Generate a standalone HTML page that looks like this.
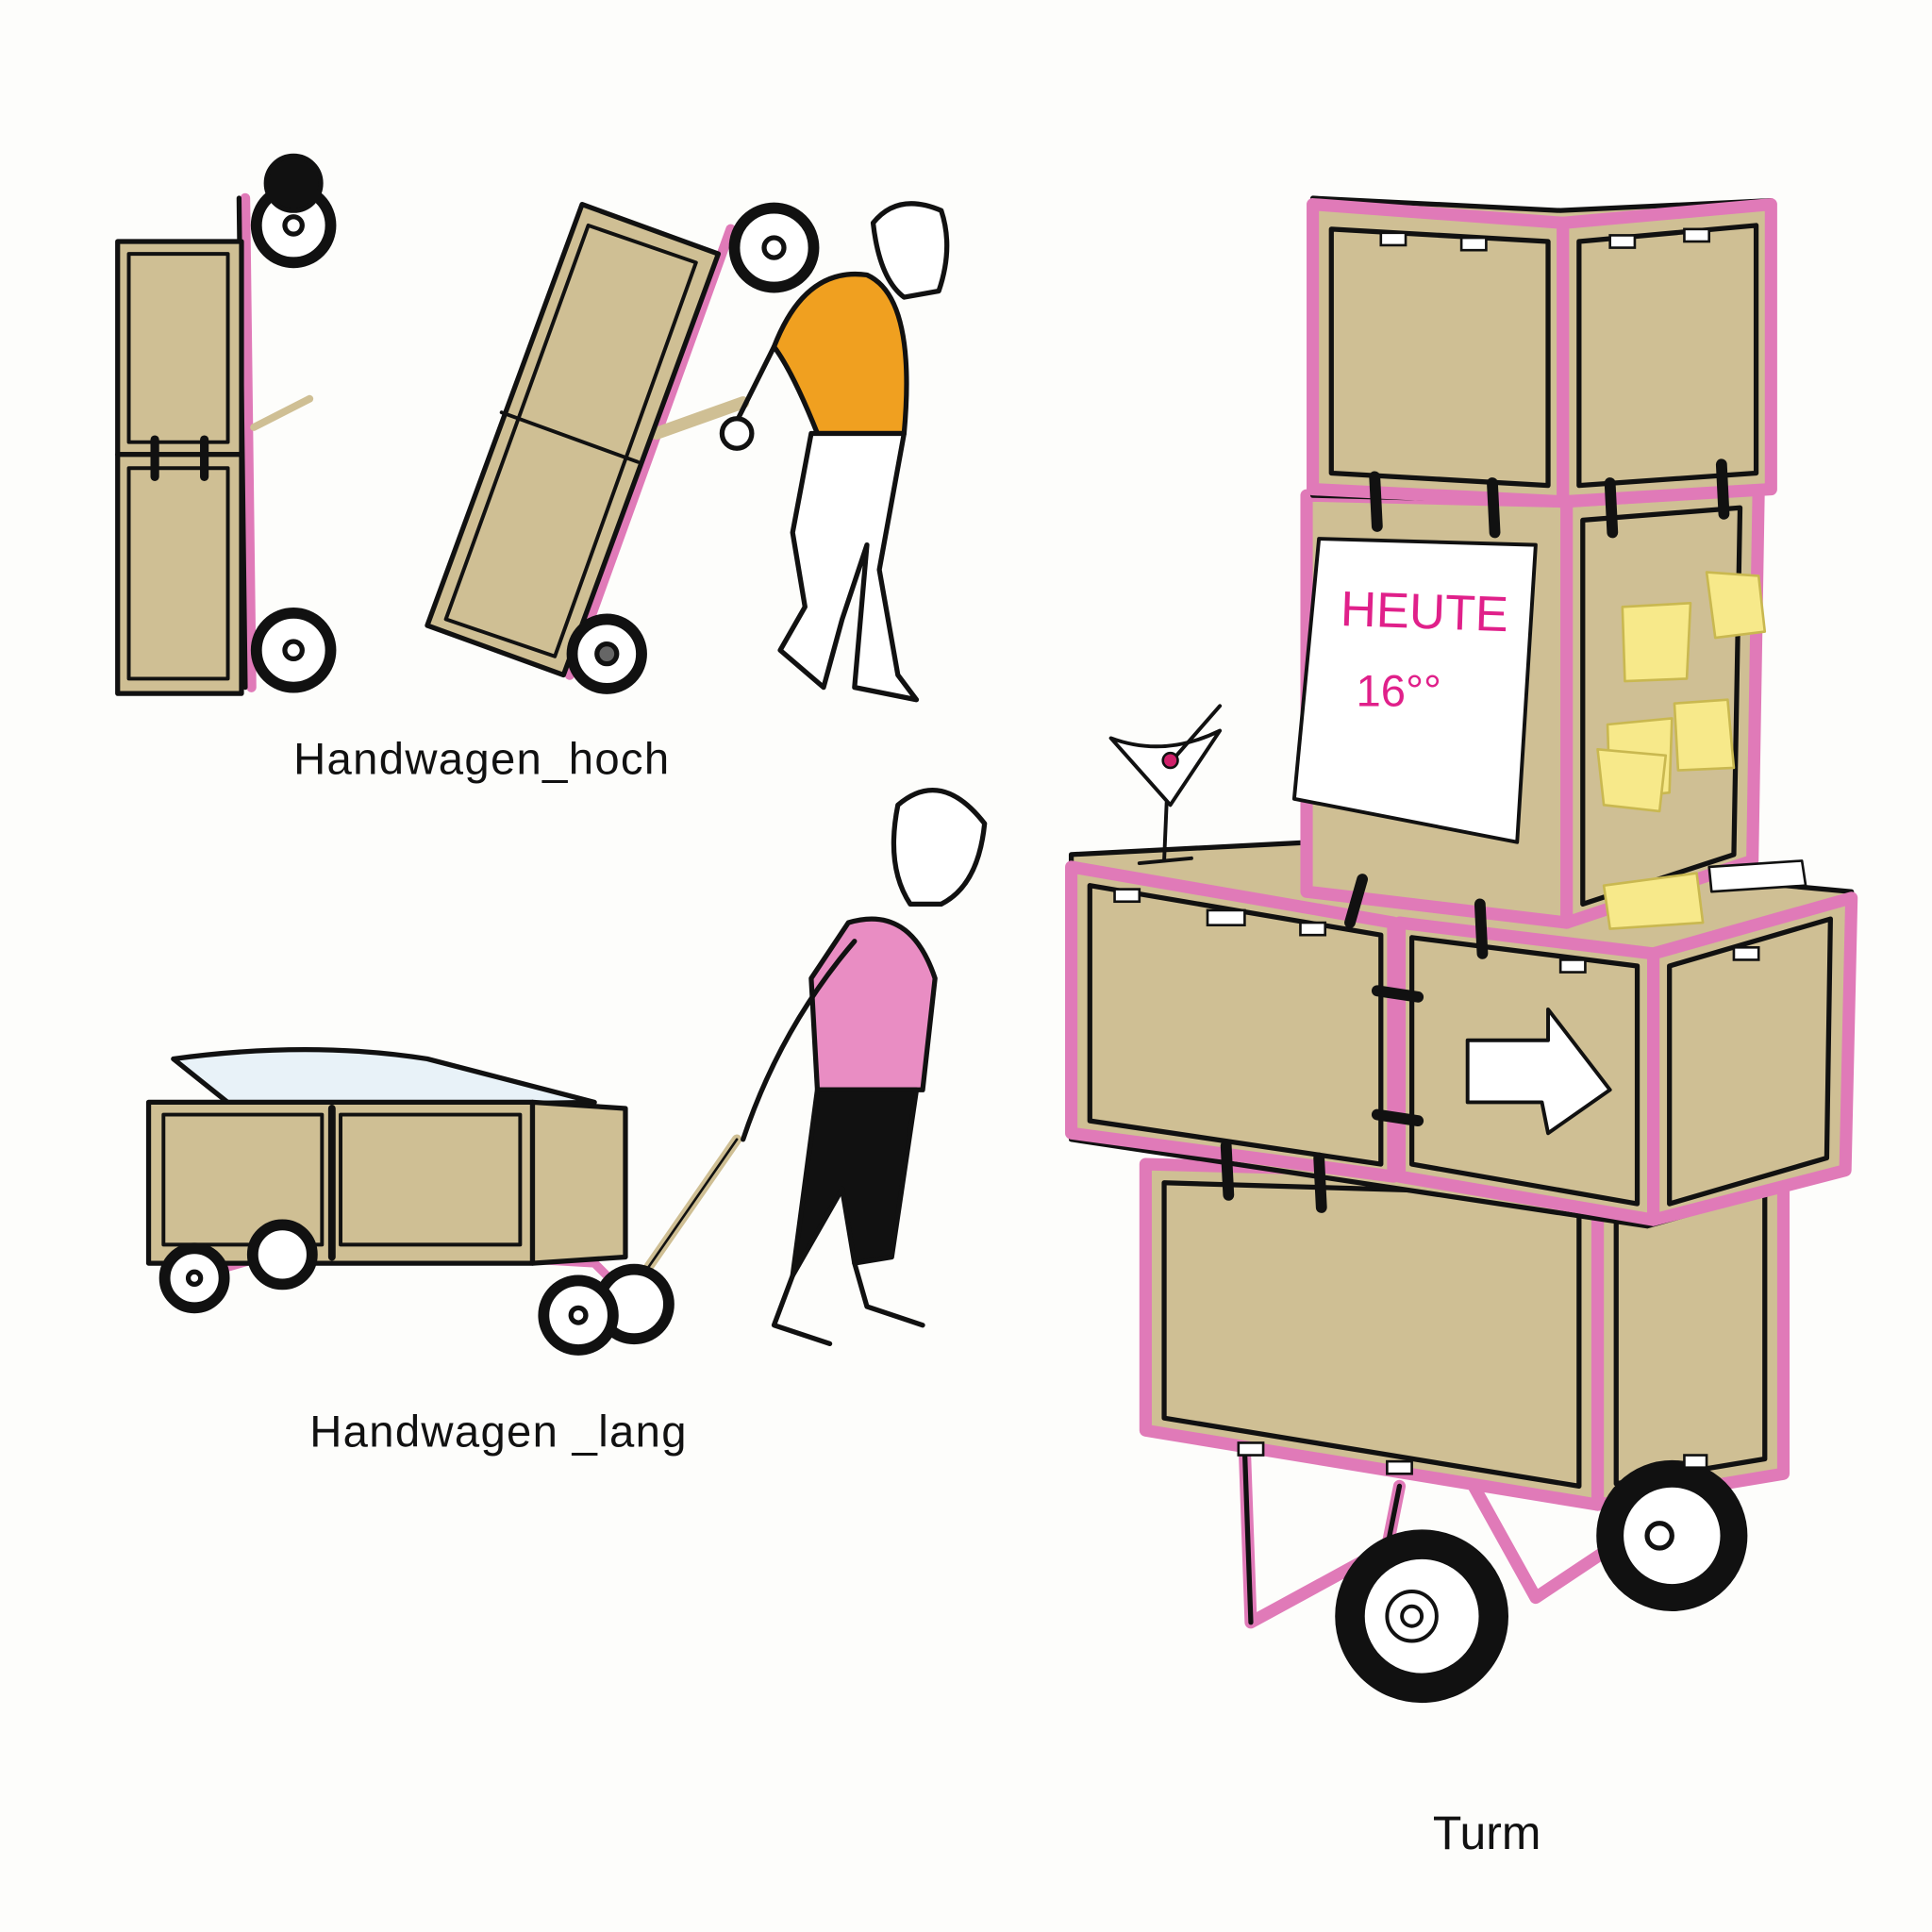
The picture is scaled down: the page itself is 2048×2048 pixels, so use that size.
<!DOCTYPE html>
<html><head><meta charset="utf-8"><style>
html,body{margin:0;padding:0;background:#fdfdfb;}
svg{display:block;}
text{font-family:"Liberation Sans",sans-serif;}
</style></head><body>
<svg width="2048" height="2048" viewBox="0 0 1560 1560" xmlns="http://www.w3.org/2000/svg">
<rect width="1560" height="1560" fill="#fdfdfb"/>
<g stroke="#111" stroke-width="4" stroke-linejoin="round" stroke-linecap="round">

<line x1="198" y1="160" x2="203" y2="555" stroke="#e07ab8" stroke-width="8"/>
<line x1="193" y1="160" x2="198" y2="555"/>
<line x1="205" y1="345" x2="250" y2="322" stroke-width="6" stroke="#cfbf94"/>
<rect x="95" y="195" width="100" height="172" fill="#cfbf94"/>
<rect x="104" y="205" width="80" height="152" fill="none" stroke-width="3"/>
<rect x="95" y="367" width="100" height="193" fill="#cfbf94"/>
<rect x="104" y="378" width="80" height="170" fill="none" stroke-width="3"/>
<line x1="125" y1="355" x2="125" y2="385" stroke-width="7"/>
<line x1="165" y1="355" x2="165" y2="385" stroke-width="7"/>
<circle cx="237" cy="182" r="30" fill="#fff" stroke-width="9"/>
<circle cx="237" cy="182" r="7" fill="#fff"/>
<circle cx="237" cy="148" r="22" fill="#111"/>
<circle cx="237" cy="525" r="30" fill="#fff" stroke-width="9"/>
<circle cx="237" cy="525" r="7" fill="#fff"/>

<line x1="590" y1="185" x2="460" y2="545" stroke="#e07ab8" stroke-width="8"/>
<line x1="530" y1="350" x2="600" y2="325" stroke="#cfbf94" stroke-width="10"/>
<polygon points="345,505 470,165 580,205 455,545" fill="#cfbf94"/>
<polygon points="360,500 475,182 562,212 448,530" fill="none" stroke-width="3"/>
<line x1="405" y1="333" x2="515" y2="373" stroke-width="3"/>
<circle cx="625" cy="200" r="32" fill="#fff" stroke-width="9"/>
<circle cx="625" cy="200" r="8" fill="#fff"/>
<circle cx="490" cy="528" r="28" fill="#fff" stroke-width="9"/>
<circle cx="490" cy="528" r="8" fill="#666"/>
<path d="M705 180 Q725 155 760 170 Q770 200 758 235 L730 240 Q710 225 705 180Z" fill="#fff"/>
<path d="M700 222 Q740 240 730 350 L660 350 Q640 300 625 280 Q650 215 700 222Z" fill="#f0a020"/>
<path d="M625 280 Q605 320 590 350" fill="none"/>
<circle cx="595" cy="350" r="12" fill="#fff"/>
<path d="M655 350 L640 430 L650 490 L630 525 L665 555 L680 500 L700 440 L690 555 L740 565 L725 545 L710 460 L730 350Z" fill="#fff"/>

<path d="M140 1000 L480 1020 L510 1050 M160 1030 L230 1010" fill="none" stroke="#e07ab8" stroke-width="7"/>
<path d="M140 855 Q250 840 345 855 L480 890 L190 895Z" fill="#e8f2f8"/>
<rect x="120" y="890" width="310" height="130" fill="#cfbf94"/>
<polygon points="430,890 505,895 505,1015 430,1020" fill="#cfbf94"/>
<rect x="132" y="900" width="128" height="105" fill="none" stroke-width="3"/>
<rect x="275" y="900" width="145" height="105" fill="none" stroke-width="3"/>
<line x1="268" y1="895" x2="268" y2="1015" stroke-width="6"/>
<line x1="505" y1="1050" x2="595" y2="920" stroke="#cfbf94" stroke-width="8"/>
<line x1="505" y1="1050" x2="595" y2="920" stroke-width="2"/>
<circle cx="228" cy="1013" r="24" fill="#fff" stroke-width="9"/>
<circle cx="157" cy="1032" r="24" fill="#fff" stroke-width="9"/>
<circle cx="157" cy="1032" r="5" fill="#fff"/>
<circle cx="512" cy="1053" r="28" fill="#fff" stroke-width="9"/>
<circle cx="467" cy="1062" r="28" fill="#fff" stroke-width="9"/>
<circle cx="467" cy="1062" r="6" fill="#fff"/>
<path d="M725 650 Q760 620 795 665 Q790 715 760 730 L735 730 Q715 700 725 650Z" fill="#fff"/>
<path d="M685 745 Q735 730 755 790 L745 880 L660 880 L655 790Z" fill="#e98dc3"/>
<path d="M690 760 Q630 830 600 920" fill="none"/>
<path d="M660 880 L740 880 L720 1015 L690 1020 L680 960 L640 1030Z" fill="#111"/>
<path d="M640 1030 L625 1070 L670 1085 M690 1020 L700 1055 L745 1070" fill="none"/>

<path d="M1005 1170 L1010 1310 L1120 1250 L1130 1200 M1190 1200 L1240 1290 L1300 1250 L1310 1200" fill="none" stroke="#e07ab8" stroke-width="10"/>
<path d="M1005 1170 L1010 1310 M1120 1250 L1130 1200" fill="none"/>
<polygon points="925,940 1290,950 1440,945 1440,1190 1290,1215 925,1155" fill="#cfbf94"/>
<polygon points="925,940 1290,950 1290,1215 925,1155" fill="#cfbf94" stroke="#e07ab8" stroke-width="10"/>
<polygon points="940,955 1275,965 1275,1200 940,1145" fill="none"/>
<polygon points="1290,950 1440,945 1440,1190 1290,1215" fill="none" stroke="#e07ab8" stroke-width="10"/>
<polygon points="1305,965 1425,960 1425,1178 1305,1198" fill="none"/>
<polygon points="865,690 1060,680 1495,720 1490,945 1330,990 865,920" fill="#cfbf94"/>
<polygon points="865,700 1125,745 1125,950 865,915" fill="#cfbf94" stroke="#e07ab8" stroke-width="10"/>
<polygon points="880,715 1115,755 1115,940 880,905" fill="none"/>
<polygon points="1130,745 1335,770 1335,985 1130,950" fill="#cfbf94" stroke="#e07ab8" stroke-width="10"/>
<polygon points="1140,757 1322,780 1322,972 1140,940" fill="none"/>
<polygon points="1335,770 1495,725 1490,945 1335,985" fill="#cfbf94" stroke="#e07ab8" stroke-width="10"/>
<polygon points="1348,780 1478,742 1475,935 1348,972" fill="none"/>
<polygon points="1185,840 1250,840 1250,815 1300,880 1250,915 1245,890 1185,890" fill="#fff" stroke-width="3"/>
<polygon points="1055,400 1265,405 1265,745 1055,720" fill="#cfbf94" stroke="#e07ab8" stroke-width="10"/>
<polygon points="1265,405 1420,395 1415,695 1265,745" fill="#cfbf94" stroke="#e07ab8" stroke-width="10"/>
<polygon points="1278,420 1405,410 1400,690 1278,730" fill="none"/>
<polygon points="1060,160 1260,170 1430,162 1430,395 1260,405 1060,400" fill="#cfbf94"/>
<polygon points="1060,165 1262,180 1262,405 1060,395" fill="#cfbf94" stroke="#e07ab8" stroke-width="10"/>
<polygon points="1075,185 1250,195 1250,392 1075,382" fill="none"/>
<polygon points="1262,180 1430,165 1430,395 1262,405" fill="#cfbf94" stroke="#e07ab8" stroke-width="10"/>
<polygon points="1275,195 1418,182 1418,382 1275,392" fill="none"/>
<g stroke-width="9">
<line x1="1110" y1="385" x2="1112" y2="425"/><line x1="1205" y1="390" x2="1207" y2="430"/>
<line x1="1300" y1="390" x2="1302" y2="430"/><line x1="1390" y1="375" x2="1392" y2="415"/>
<line x1="1100" y1="710" x2="1090" y2="745"/><line x1="1195" y1="730" x2="1197" y2="770"/>
<line x1="990" y1="925" x2="992" y2="965"/><line x1="1065" y1="935" x2="1067" y2="975"/>
<line x1="1112" y1="800" x2="1145" y2="805"/><line x1="1112" y1="900" x2="1145" y2="905"/>
</g>
<polygon points="1065,435 1240,440 1225,680 1045,645" fill="#fff" stroke-width="3"/>
<g fill="#f7e98a" stroke-width="2" stroke="#c9b850">
<polygon points="1310,490 1365,487 1362,548 1312,550"/>
<polygon points="1378,462 1420,465 1425,510 1385,515"/>
<polygon points="1298,585 1350,580 1348,640 1300,645"/>
<polygon points="1352,568 1395,565 1400,620 1355,622"/>
<polygon points="1290,605 1345,610 1340,655 1295,650"/>
<polygon points="1295,715 1370,705 1375,745 1300,750"/>
</g>
<polygon points="1380,700 1455,695 1458,715 1382,720" fill="#fff" stroke-width="2"/>
<circle cx="1350" cy="1240" r="50" fill="#fff" stroke-width="22"/>
<circle cx="1340" cy="1240" r="10" fill="#fff"/>
<circle cx="1148" cy="1305" r="58" fill="#fff" stroke-width="24"/>
<circle cx="1140" cy="1305" r="20" fill="#fff" stroke-width="3"/>
<circle cx="1140" cy="1305" r="8" fill="#fff" stroke-width="3"/>
<path d="M897 596 Q940 612 985 590 L945 650 Z" fill="#fff" stroke-width="3"/>
<line x1="942" y1="648" x2="940" y2="695" stroke-width="3"/>
<line x1="920" y1="697" x2="962" y2="693" stroke-width="3"/>
<line x1="950" y1="610" x2="985" y2="570" stroke-width="3"/>
<circle cx="945" cy="614" r="6" fill="#d0206a" stroke-width="2"/>
</g>

<g fill="#fff" stroke="#111" stroke-width="2">
<rect x="1115" y="188" width="20" height="10"/><rect x="1180" y="192" width="20" height="10"/>
<rect x="1300" y="190" width="20" height="10"/><rect x="1360" y="185" width="20" height="10"/>
<rect x="975" y="735" width="30" height="12"/><rect x="900" y="718" width="20" height="10"/>
<rect x="1050" y="745" width="20" height="10"/><rect x="1260" y="775" width="20" height="10"/>
<rect x="1400" y="765" width="20" height="10"/><rect x="1360" y="1175" width="18" height="10"/>
<rect x="1000" y="1165" width="20" height="10"/><rect x="1120" y="1180" width="20" height="10"/>
</g>

<text x="1082" y="505" font-size="40" fill="#e0208a" transform="rotate(2 1082 505)">HEUTE</text>
<text x="1095" y="570" font-size="36" fill="#e0208a">16°°</text>
<text x="237" y="625" font-size="36" fill="#111" letter-spacing="1">Handwagen_hoch</text>
<text x="250" y="1168" font-size="36" fill="#111" letter-spacing="1">Handwagen _lang</text>
<text x="1157" y="1493" font-size="38" fill="#111">Turm</text>
</svg>
</body></html>
